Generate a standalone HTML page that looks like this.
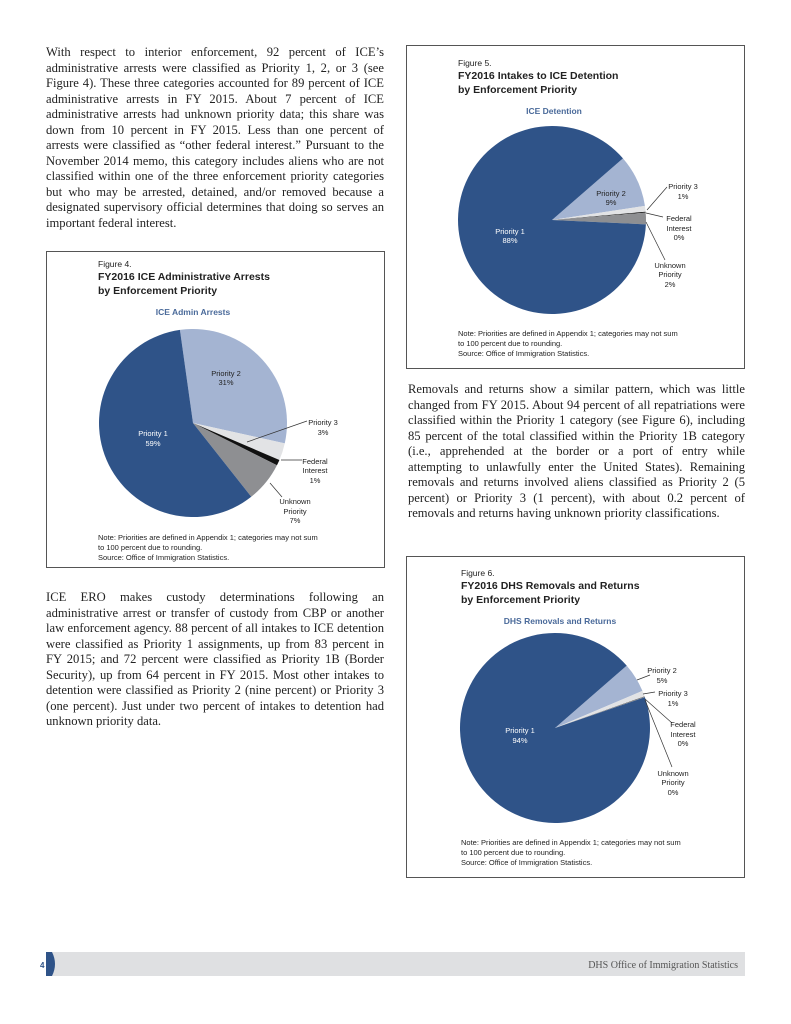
<!DOCTYPE html>
<html><head><meta charset="utf-8"><style>
body{margin:0;width:791px;height:1024px;background:#fff;position:relative;overflow:hidden;font-family:"Liberation Serif",serif;color:#222}
.t{position:absolute;font-size:12.6px;line-height:15.5px}
.t div{text-align:justify;text-align-last:justify;white-space:nowrap;height:15.5px}
.t div.l{text-align-last:left}
.box{position:absolute;border:1px solid #555;box-sizing:border-box}
svg{position:absolute;left:0;top:0}
svg text{font-family:"Liberation Sans",sans-serif;font-size:7.5px;fill:#222}
</style></head><body>

<div class="t" style="left:46px;top:45px;width:338px">
<div>With respect to interior enforcement, 92 percent of ICE’s</div>
<div>administrative arrests were classified as Priority 1, 2, or 3 (see</div>
<div>Figure 4). These three categories accounted for 89 percent of ICE</div>
<div>administrative arrests in FY 2015. About 7 percent of ICE</div>
<div>administrative arrests had unknown priority data; this share was</div>
<div>down from 10 percent in FY 2015. Less than one percent of</div>
<div>arrests were classified as “other federal interest.” Pursuant to the</div>
<div>November 2014 memo, this category includes aliens who are not</div>
<div>classified within one of the three enforcement priority categories</div>
<div>but who may be arrested, detained, and/or removed because a</div>
<div>designated supervisory official determines that doing so serves an</div>
<div class="l">important federal interest.</div>
</div>

<div class="t" style="left:46px;top:590px;width:338px">
<div>ICE ERO makes custody determinations following an</div>
<div>administrative arrest or transfer of custody from CBP or another</div>
<div>law enforcement agency. 88 percent of all intakes to ICE detention</div>
<div>were classified as Priority 1 assignments, up from 83 percent in</div>
<div>FY 2015; and 72 percent were classified as Priority 1B (Border</div>
<div>Security), up from 64 percent in FY 2015. Most other intakes to</div>
<div>detention were classified as Priority 2 (nine percent) or Priority 3</div>
<div>(one percent). Just under two percent of intakes to detention had</div>
<div class="l">unknown priority data.</div>
</div>

<div class="t" style="left:408px;top:382px;width:337px">
<div>Removals and returns show a similar pattern, which was little</div>
<div>changed from FY 2015. About 94 percent of all repatriations were</div>
<div>classified within the Priority 1 category (see Figure 6), including</div>
<div>85 percent of the total classified within the Priority 1B category</div>
<div>(i.e., apprehended at the border or a port of entry while</div>
<div>attempting to unlawfully enter the United States). Remaining</div>
<div>removals and returns involved aliens classified as Priority 2 (5</div>
<div>percent) or Priority 3 (1 percent), with about 0.2 percent of</div>
<div class="l">removals and returns having unknown priority classifications.</div>
</div>

<div class="box" style="left:46px;top:251px;width:339px;height:317px"></div>
<div class="box" style="left:406px;top:45px;width:339px;height:324px"></div>
<div class="box" style="left:406px;top:556px;width:339px;height:322px"></div>

<svg width="791" height="1024" id="s">
<g id="pies"></g>
<g stroke="#333" stroke-width="0.7">
<line x1="247" y1="442" x2="307" y2="421"/><line x1="281" y1="460" x2="302" y2="460"/><line x1="270" y1="483" x2="282" y2="497"/>
<line x1="647" y1="210" x2="667" y2="187"/><line x1="646" y1="213" x2="663" y2="217"/><line x1="646" y1="222" x2="665" y2="260"/>
<line x1="637" y1="680" x2="650" y2="675"/><line x1="643" y1="694" x2="655" y2="692"/><line x1="645" y1="699" x2="672" y2="723"/><line x1="645" y1="700" x2="672" y2="767"/>
</g>
<!-- Fig 4 -->
<text x="98" y="267" style="font-size:8.5px">Figure 4.</text>
<text x="98" y="280" style="font-size:10.5px;font-weight:bold">FY2016 ICE Administrative Arrests</text>
<text x="98" y="294" style="font-size:10.5px;font-weight:bold">by Enforcement Priority</text>
<text x="193" y="315" text-anchor="middle" style="font-size:8.5px;font-weight:bold;fill:#4a6a9a">ICE Admin Arrests</text>
<g text-anchor="middle">
<text x="226" y="376">Priority 2</text><text x="226" y="385">31%</text>
<text x="153" y="436" style="fill:#fff">Priority 1</text><text x="153" y="446" style="fill:#fff">59%</text>
<text x="323" y="425">Priority 3</text><text x="323" y="435">3%</text>
<text x="315" y="464">Federal</text><text x="315" y="473">Interest</text><text x="315" y="483">1%</text>
<text x="295" y="504">Unknown</text><text x="295" y="514">Priority</text><text x="295" y="523">7%</text>
</g>
<text x="98" y="540">Note: Priorities are defined in Appendix 1; categories may not sum</text>
<text x="98" y="550">to 100 percent due to rounding.</text>
<text x="98" y="560">Source: Office of Immigration Statistics.</text>
<!-- Fig 5 -->
<text x="458" y="66" style="font-size:8.5px">Figure 5.</text>
<text x="458" y="79" style="font-size:10.5px;font-weight:bold">FY2016 Intakes to ICE Detention</text>
<text x="458" y="93" style="font-size:10.5px;font-weight:bold">by Enforcement Priority</text>
<text x="554" y="114" text-anchor="middle" style="font-size:8.5px;font-weight:bold;fill:#4a6a9a">ICE Detention</text>
<g text-anchor="middle">
<text x="611" y="196">Priority 2</text><text x="611" y="205">9%</text>
<text x="510" y="234" style="fill:#fff">Priority 1</text><text x="510" y="243" style="fill:#fff">88%</text>
<text x="683" y="189">Priority 3</text><text x="683" y="199">1%</text>
<text x="679" y="221">Federal</text><text x="679" y="231">Interest</text><text x="679" y="240">0%</text>
<text x="670" y="268">Unknown</text><text x="670" y="277">Priority</text><text x="670" y="287">2%</text>
</g>
<text x="458" y="336">Note: Priorities are defined in Appendix 1; categories may not sum</text>
<text x="458" y="346">to 100 percent due to rounding.</text>
<text x="458" y="356">Source: Office of Immigration Statistics.</text>
<!-- Fig 6 -->
<text x="461" y="576" style="font-size:8.5px">Figure 6.</text>
<text x="461" y="589" style="font-size:10.5px;font-weight:bold">FY2016 DHS Removals and Returns</text>
<text x="461" y="603" style="font-size:10.5px;font-weight:bold">by Enforcement Priority</text>
<text x="560" y="624" text-anchor="middle" style="font-size:8.5px;font-weight:bold;fill:#4a6a9a">DHS Removals and Returns</text>
<g text-anchor="middle">
<text x="662" y="673">Priority 2</text><text x="662" y="683">5%</text>
<text x="673" y="696">Priority 3</text><text x="673" y="706">1%</text>
<text x="683" y="727">Federal</text><text x="683" y="737">Interest</text><text x="683" y="746">0%</text>
<text x="673" y="776">Unknown</text><text x="673" y="785">Priority</text><text x="673" y="795">0%</text>
<text x="520" y="733" style="fill:#fff">Priority 1</text><text x="520" y="743" style="fill:#fff">94%</text>
</g>
<text x="461" y="845">Note: Priorities are defined in Appendix 1; categories may not sum</text>
<text x="461" y="855">to 100 percent due to rounding.</text>
<text x="461" y="865">Source: Office of Immigration Statistics.</text>
<!-- footer -->
<rect x="50" y="952" width="695" height="24" fill="#dfe0e2"/>
<path d="M46 952 h6 q6 12 0 24 h-6 z" fill="#2f5388"/>
<text x="40" y="968" style="font-size:8px;font-weight:bold;fill:#2f5388">4</text>
<text x="738" y="968" text-anchor="end" style="font-family:'Liberation Serif',serif;font-size:10px;fill:#555">DHS Office of Immigration Statistics</text>
</svg>
<script>
var C=["#2f5388","#a4b4d2","#e2e3e5","#111","#8e8f92"];
function pie(cx,cy,r,start,vals){
 var g=document.getElementById('pies'),a=start,tot=vals.reduce(function(s,v){return s+v},0),order=[1,2,3,4,0];
 order.forEach(function(i){var v=vals[i];if(v<=0)return;var sw=v/tot*360,b=a+sw;
  function pt(d){var t=(d-90)*Math.PI/180;return (cx+r*Math.cos(t)).toFixed(2)+' '+(cy+r*Math.sin(t)).toFixed(2);}
  var p=document.createElementNS('http://www.w3.org/2000/svg','path');
  p.setAttribute('d','M'+cx+' '+cy+' L'+pt(a)+' A'+r+' '+r+' 0 '+(sw>180?1:0)+' 1 '+pt(b)+' Z');
  p.setAttribute('fill',C[i]);g.appendChild(p);a=b;});
}
pie(193,423,94,-8,[59,31,3,1,7]);
pie(552,220,94,49,[88,9,1,0.15,2]);
pie(555,728,95,49,[94,5,1,0.05,0.1]);
</script>
</body></html>
